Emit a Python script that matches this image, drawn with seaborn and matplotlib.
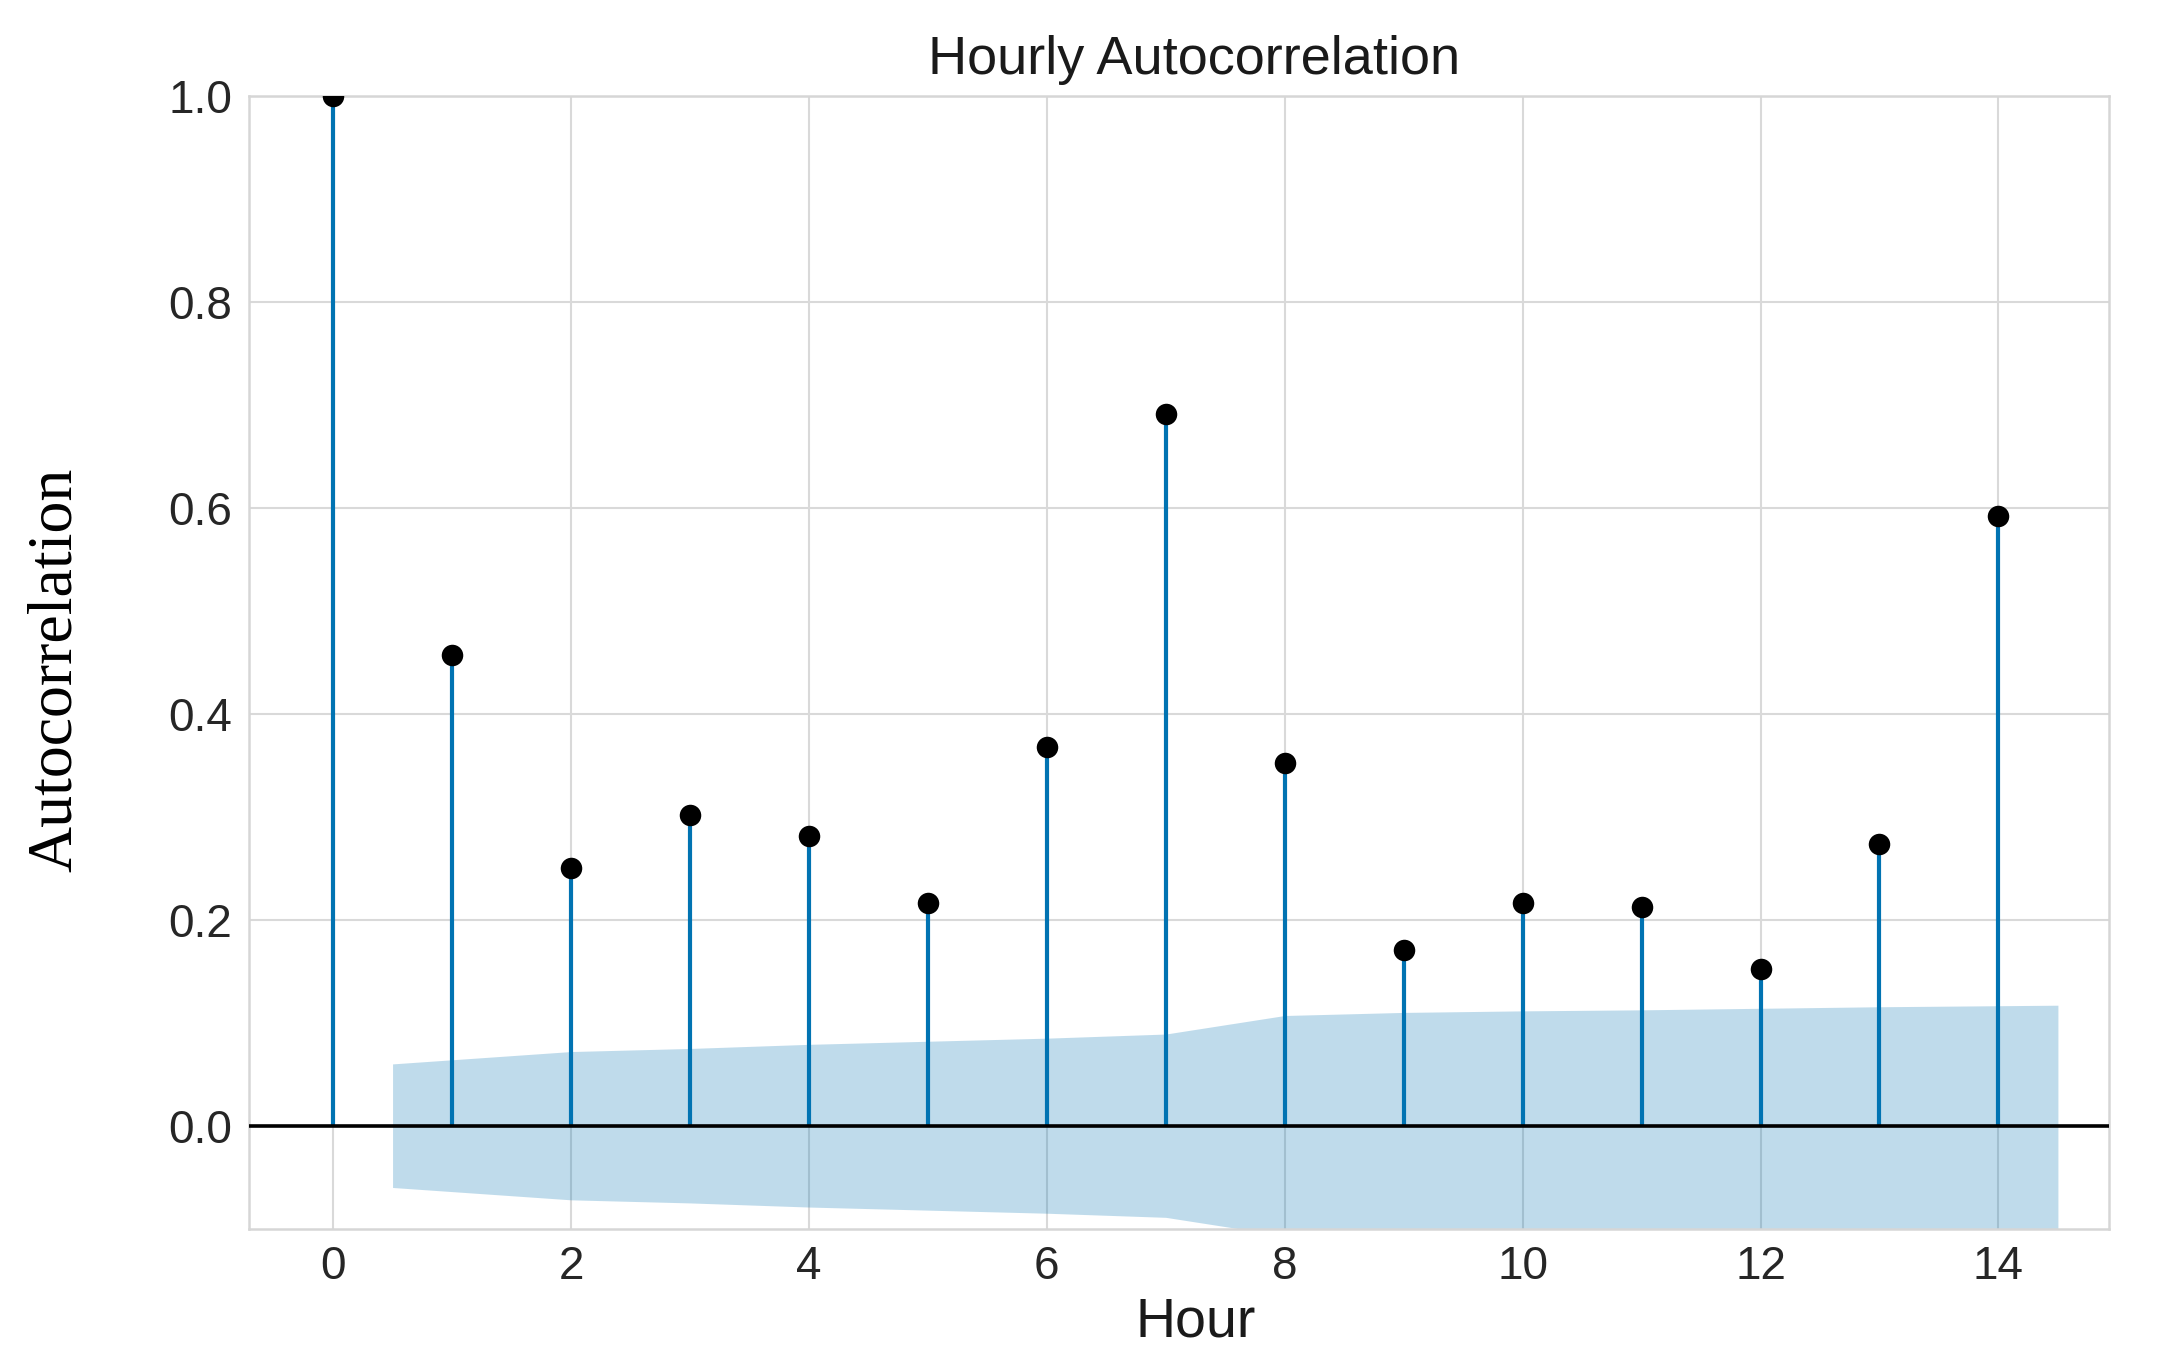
import numpy as np
import pandas as pd
import seaborn as sns
import matplotlib
matplotlib.use("Agg")
import matplotlib.pyplot as plt

# values
lags = list(range(15))
acf_vals = [1.0, 0.457, 0.250, 0.302, 0.281, 0.216, 0.368, 0.691,
            0.352, 0.171, 0.216, 0.212, 0.152, 0.274, 0.592]
# half width of the confidence band for lags 1..14
band_x = [0.5, 2, 3, 4, 5, 6, 7, 8, 9, 10, 11, 12, 13, 14.5]
band_half = [0.060, 0.072, 0.075, 0.079, 0.082, 0.085, 0.089, 0.107,
             0.110, 0.1115, 0.1125, 0.114, 0.1155, 0.117]

sns.set_theme(style="whitegrid", palette="colorblind")
plt.rcParams['font.family'] = ['Liberation Sans', 'DejaVu Sans']

df = pd.DataFrame({'Hour': lags, 'ACF': acf_vals})
c0 = sns.color_palette("colorblind")[0]

fig = plt.figure(figsize=(21.77, 13.56), dpi=100)
ax = fig.add_axes([0.1142, 0.0939, 0.9688 - 0.1142, 0.9293 - 0.0939])

ax.vlines(df['Hour'], 0, df['ACF'], color=c0, linewidth=3.0, zorder=3)
sns.scatterplot(data=df, x='Hour', y='ACF', ax=ax, color='black', s=240,
                edgecolor='black', linewidth=0, zorder=4)
ax.axhline(0, color='black', linewidth=2.6, zorder=3)
bx = np.array(band_x)
bh = np.array(band_half)
ax.fill_between(bx, -bh, bh, color=c0, alpha=0.25, linewidth=0, zorder=2)

ax.set_xlim(-0.71, 14.93)
ax.set_ylim(-0.1, 1.0)
ax.set_xticks(range(0, 15, 2))
ax.set_yticks([0.0, 0.2, 0.4, 0.6, 0.8, 1.0])
ax.set_yticklabels(['0.0', '0.2', '0.4', '0.6', '0.8', '1.0'])
ax.tick_params(axis='both', labelsize=33, pad=6)
ax.grid(True, color='#d9d9d9', linewidth=1.5)
for s in ax.spines.values():
    s.set_color('#d6d6d6')
    s.set_linewidth(1.8)

ax.set_title('Hourly Autocorrelation', fontsize=39, pad=16, color='#1a1a1a',
             x=0.508)
ax.set_xlabel('Hour', fontsize=40, color='#1a1a1a')
ax.xaxis.set_label_coords(0.509, -0.060)
ax.set_ylabel('Autocorrelation', fontsize=46, color='black',
              family=['Liberation Serif', 'DejaVu Serif'])
ax.yaxis.set_label_coords(-0.088, 0.493)

fig.savefig('out.png', dpi=100)
